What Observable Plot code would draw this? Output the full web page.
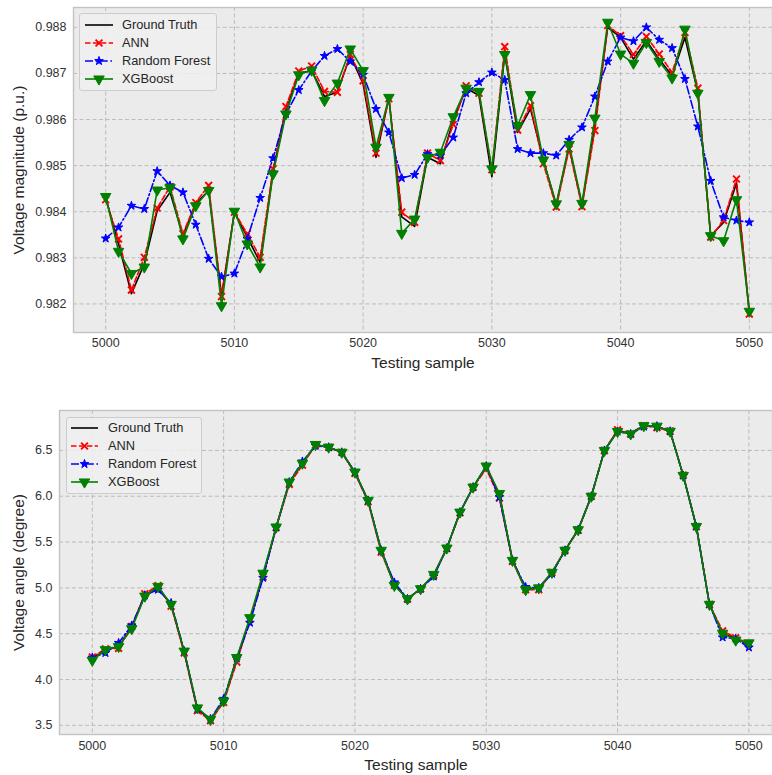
<!DOCTYPE html>
<html>
<head>
<meta charset="utf-8">
<script src="https://cdn.jsdelivr.net/npm/d3@7"></script>
<script src="https://cdn.jsdelivr.net/npm/@observablehq/plot@0.6"></script>
<style>
  html, body { margin: 0; padding: 0; background: #fff; }
  #root { position: relative; width: 772px; height: 775px; overflow: hidden; font-family: "Liberation Sans", Arial, sans-serif; }
  .panel { position: absolute; left: 0; width: 772px; }
  .legend { position: absolute; background: rgba(240,240,240,0.85); border: 1px solid #cccccc; border-radius: 3px; box-sizing: border-box; }
  .legend .row { position: absolute; left: 0; height: 18px; width: 100%; }
  .legend .row svg { position: absolute; top: 0; }
  .legend .row span { position: absolute; top: 0; line-height: 18px; font-size: 12.8px; color: #262626; white-space: nowrap; }
</style>
</head>
<body>
<div id="root"></div>
<script>
// ---------- data ----------
const samples = d3.range(5000, 5051);

const xTicks = [5000, 5010, 5020, 5030, 5040, 5050];
const magTicks = [0.982, 0.983, 0.984, 0.985, 0.986, 0.987, 0.988];
const angTicks = [3.5, 4.0, 4.5, 5.0, 5.5, 6.0, 6.5];

const seriesNames = ["Ground Truth", "ANN", "Random Forest", "XGBoost"];

// Voltage magnitude (p.u.)
const magGroundTruth = [0.98431,0.98330,0.98222,0.98287,0.98402,0.98442,0.98348,0.98417,0.98446,0.98218,0.98399,
  0.98345,0.98290,0.98486,0.98619,0.98700,0.98706,0.98650,0.98659,0.98739,0.98677,
  0.98518,0.98647,0.98389,0.98368,0.98518,0.98504,0.98598,0.98668,0.98652,0.98476,
  0.98742,0.98572,0.98623,0.98511,0.98415,0.98540,0.98415,0.98587,0.98800,0.98778,
  0.98731,0.98771,0.98731,0.98695,0.98778,0.98659,0.98348,0.98377,0.98462,0.98182];
const magANN = [0.98426,0.98341,0.98230,0.98301,0.98408,0.98454,0.98352,0.98420,0.98457,0.98216,0.98399,
  0.98352,0.98301,0.98493,0.98628,0.98705,0.98716,0.98661,0.98659,0.98741,0.98684,
  0.98527,0.98645,0.98399,0.98377,0.98527,0.98511,0.98589,0.98673,0.98657,0.98491,
  0.98758,0.98577,0.98630,0.98504,0.98410,0.98536,0.98411,0.98576,0.98804,0.98782,
  0.98741,0.98780,0.98742,0.98702,0.98789,0.98668,0.98345,0.98381,0.98471,0.98178];
const magRF = [0.98342,0.98366,0.98413,0.98406,0.98488,0.98457,0.98442,0.98372,0.98298,0.98259,0.98266,
  0.98341,0.98430,0.98516,0.98612,0.98664,0.98705,0.98738,0.98753,0.98726,0.98697,
  0.98623,0.98572,0.98473,0.98480,0.98525,0.98522,0.98561,0.98657,0.98681,0.98702,
  0.98686,0.98536,0.98527,0.98527,0.98522,0.98556,0.98583,0.98650,0.98726,0.98778,
  0.98770,0.98800,0.98773,0.98755,0.98688,0.98585,0.98467,0.98388,0.98381,0.98377];
const magXGB = [0.98433,0.98314,0.98266,0.98280,0.98447,0.98452,0.98341,0.98413,0.98446,0.98196,0.98401,
  0.98330,0.98280,0.98482,0.98612,0.98697,0.98707,0.98641,0.98679,0.98753,0.98706,
  0.98540,0.98648,0.98353,0.98384,0.98518,0.98529,0.98606,0.98668,0.98661,0.98493,
  0.98741,0.98587,0.98654,0.98512,0.98417,0.98546,0.98418,0.98603,0.98811,0.98742,
  0.98722,0.98767,0.98726,0.98690,0.98796,0.98657,0.98348,0.98337,0.98426,0.98184];

// Voltage angle (degree)
const angGroundTruth = [4.23,4.32,4.36,4.57,4.92,5.00,4.82,4.30,3.68,3.56,3.77,
  4.22,4.65,5.13,5.66,6.15,6.36,6.56,6.535,6.48,6.26,
  5.95,5.41,5.04,4.88,4.99,5.14,5.435,5.825,6.10,6.32,
  6.02,5.30,4.99,5.00,5.165,5.41,5.635,6.00,6.50,6.71,
  6.69,6.77,6.76,6.71,6.23,5.67,4.82,4.50,4.45,4.38];
const angANN = [4.245,4.336,4.34,4.58,4.935,5.025,4.80,4.29,3.66,3.55,3.75,
  4.19,4.66,5.12,5.66,6.13,6.34,6.56,6.535,6.48,6.25,
  5.94,5.39,5.03,4.88,4.99,5.14,5.43,5.82,6.10,6.30,
  5.98,5.29,4.98,4.98,5.17,5.41,5.63,6.00,6.50,6.725,
  6.68,6.77,6.75,6.71,6.23,5.67,4.82,4.53,4.456,4.39];
const angRF = [4.24,4.29,4.40,4.59,4.92,4.98,4.835,4.31,3.68,3.57,3.79,
  4.23,4.62,5.11,5.66,6.155,6.38,6.55,6.535,6.48,6.264,
  5.955,5.41,5.06,4.88,4.99,5.125,5.435,5.827,6.10,6.33,
  5.99,5.30,5.01,5.00,5.155,5.41,5.635,6.00,6.50,6.707,
  6.68,6.76,6.765,6.71,6.227,5.67,4.82,4.46,4.445,4.35];
const angXGB = [4.21,4.325,4.36,4.555,4.91,5.016,4.82,4.31,3.69,3.565,3.765,
  4.24,4.675,5.16,5.664,6.155,6.36,6.565,6.536,6.48,6.264,
  5.955,5.41,5.027,4.88,4.99,5.147,5.435,5.827,6.10,6.33,
  6.03,5.30,4.98,5.00,5.17,5.41,5.635,6.00,6.50,6.707,
  6.68,6.77,6.765,6.71,6.227,5.67,4.82,4.505,4.43,4.40];

// ---------- styles ----------
const styles = [
  {name: seriesNames[0], color: "#000000", dash: null, symbol: null},
  {name: seriesNames[1], color: "#ff0000", dash: "5.5,2.4", symbol: "times", r: 3.2, fill: false},
  {name: seriesNames[2], color: "#0000ff", dash: "8,2.6,1.6,2.6", symbol: "star", r: 2.7, fill: true},
  {name: seriesNames[3], color: "#008000", dash: null, symbol: "triangle", r: 3.9, fill: true, rotate: 180}
];

const FONT = '"Liberation Sans", Arial, sans-serif';

function rows(values) { return samples.map((s, i) => ({x: s, y: values[i]})); }

function buildChart(cfg) {
  const marks = [
    Plot.frame({fill: "#ebebeb", stroke: null}),
    Plot.gridX(xTicks, {stroke: "#b5b5b5", strokeOpacity: 1, strokeDasharray: "4,2.5", strokeWidth: 0.9}),
    Plot.gridY(cfg.yTicks, {stroke: "#b5b5b5", strokeOpacity: 1, strokeDasharray: "4,2.5", strokeWidth: 0.9}),
    Plot.frame({stroke: "#c3c3c3", strokeWidth: 1.4}),
    Plot.axisX(xTicks, {tickSize: 0, tickPadding: cfg.xPad, tickFormat: d => String(d), label: null, fill: "#333"}),
    Plot.axisY(cfg.yTicks, {tickSize: 0, tickPadding: 7, tickFormat: cfg.yFormat, label: null, fill: "#333"})
  ];
  cfg.series.forEach((vals, k) => {
    const st = styles[k];
    const data = rows(vals);
    marks.push(Plot.line(data, {x: "x", y: "y", stroke: st.color, strokeWidth: 1.6,
      strokeDasharray: st.dash || undefined}));
    if (st.symbol) {
      marks.push(Plot.dot(data, {x: "x", y: "y", symbol: st.symbol, r: st.r,
        fill: st.fill ? st.color : "none", stroke: st.color, strokeWidth: st.fill ? 1 : 1.9,
        rotate: st.rotate || 0}));
    }
  });
  marks.push(Plot.text([cfg.xLabel], {frameAnchor: "bottom", dy: 31, lineAnchor: "middle",
    text: d => d, fontSize: 15.5, fill: "#262626"}));
  marks.push(Plot.text([cfg.yLabel], {frameAnchor: "left", dx: cfg.yLabelDx, rotate: -90,
    lineAnchor: "middle", textAnchor: "middle", text: d => d, fontSize: 15.5, fill: "#262626"}));

  return Plot.plot({
    width: 772,
    height: cfg.height,
    marginLeft: cfg.marginLeft,
    marginRight: 0,
    marginTop: cfg.marginTop,
    marginBottom: cfg.marginBottom,
    x: {domain: [4997.5, 5051.8]},
    y: {domain: cfg.yDomain},
    style: {fontFamily: FONT, fontSize: "12.5px", background: "transparent", overflow: "visible"},
    marks
  });
}

function buildLegend(pos) {
  const lg = document.createElement("div");
  lg.className = "legend";
  Object.assign(lg.style, {left: pos.left + "px", top: pos.top + "px", width: pos.width + "px", height: pos.height + "px"});
  styles.forEach((st, k) => {
    const row = document.createElement("div");
    row.className = "row";
    row.style.top = (pos.firstCenter - 9 + k * 18) + "px";
    const x0 = pos.lineX0, x1 = pos.lineX1, xm = (x0 + x1) / 2;
    let sym = "";
    if (st.symbol) {
      const gen = d3.symbol().type({times: d3.symbolTimes, star: d3.symbolStar, triangle: d3.symbolTriangle}[st.symbol]).size(st.r * st.r * Math.PI);
      sym = `<path d="${gen()}" transform="translate(${xm},9) rotate(${st.rotate || 0})" fill="${st.fill ? st.color : "none"}" stroke="${st.color}" stroke-width="${st.fill ? 1 : 1.9}"/>`;
    }
    row.innerHTML = `<svg width="${x1 + 4}" height="18"><line x1="${x0}" x2="${x1}" y1="9" y2="9" stroke="${st.color}" stroke-width="1.6" ${st.dash ? `stroke-dasharray="${st.dash}"` : ""}/>${sym}</svg><span style="left:${pos.textX}px">${st.name}</span>`;
    lg.appendChild(row);
  });
  return lg;
}

const root = document.getElementById("root");

// Top panel: voltage magnitude
const p1 = document.createElement("div");
p1.className = "panel"; p1.style.top = "0px";
p1.appendChild(buildChart({
  height: 385, marginLeft: 73, marginTop: 7, marginBottom: 53,
  yDomain: [0.98138, 0.98843], yTicks: magTicks, yFormat: d3.format(".3f"), xPad: 6,
  series: [magGroundTruth, magANN, magRF, magXGB],
  xLabel: "Testing sample", yLabel: "Voltage magnitude (p.u.)", yLabelDx: -54
}));
p1.appendChild(buildLegend({left: 79, top: 13, width: 138, height: 78, firstCenter: 11, lineX0: 5, lineX1: 33, textX: 42}));
root.appendChild(p1);

// Bottom panel: voltage angle
const p2 = document.createElement("div");
p2.className = "panel"; p2.style.top = "385px";
p2.appendChild(buildChart({
  height: 390, marginLeft: 59, marginTop: 25, marginBottom: 41,
  yDomain: [3.40, 6.936], yTicks: angTicks, yFormat: d3.format(".1f"), xPad: 6.5,
  series: [angGroundTruth, angANN, angRF, angXGB],
  xLabel: "Testing sample", yLabel: "Voltage angle (degree)", yLabelDx: -40
}));
p2.appendChild(buildLegend({left: 66, top: 32, width: 136, height: 77, firstCenter: 10, lineX0: 4, lineX1: 31, textX: 41}));
root.appendChild(p2);
</script>
</body>
</html>
